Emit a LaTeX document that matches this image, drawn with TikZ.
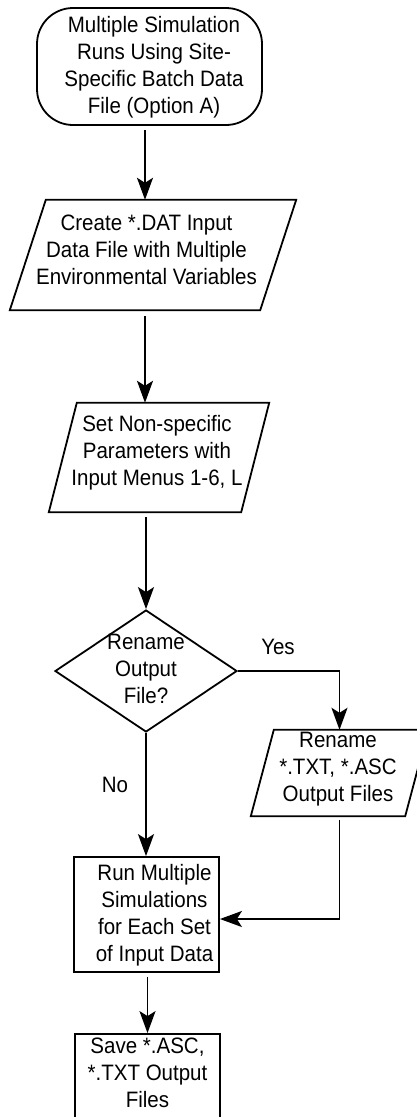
\documentclass[tikz,border=0pt]{standalone}
\usepackage{fontspec}
\setmainfont{Liberation Sans}[FakeStretch=0.92]
\usetikzlibrary{shapes.geometric,arrows.meta,calc}

% Centred lines of text with extra room on the left, right, top and bottom,
% used to nudge the text inside its box.
\newcommand\padded[5]{%
  \raisebox{0pt}[\dimexpr\height+#3\relax][\dimexpr\depth+#4\relax]{%
    \hspace*{#1}\begin{tabular}{@{}c@{}}#5\end{tabular}\hspace*{#2}}}

% Parallelogram drawn over the rectangle of a node, #2 = horizontal slant
\newcommand\slantoutline[2]{%
  \draw[edgeline] ($(#1.north west)+(#2,0)$) -- (#1.north east)
    -- ($(#1.south east)-(#2,0)$) -- (#1.south west) -- cycle;}

\begin{document}
\begin{tikzpicture}[x=1pt,y=-1pt,
  font=\fontsize{22.3}{27}\selectfont,
  edgeline/.style={line width=1.8pt},
  flow/.style={edgeline, -{Stealth[length=22pt,width=16pt,inset=5pt]}},
  terminal/.style={edgeline, draw, rectangle, rounded corners=36pt,
    inner sep=0pt, minimum width=225pt, minimum height=117pt},
  iobox/.style={rectangle, inner sep=0pt},
  process/.style={edgeline, draw, rectangle, inner sep=0pt, minimum width=145pt},
  decision/.style={edgeline, draw, diamond, inner sep=0pt,
    minimum width=182pt, minimum height=122pt},
  tag/.style={inner sep=0pt}]

\useasboundingbox (0,0) rectangle (417,1117);
\clip (0,0) rectangle (417,1117);

% boxes
\node[terminal] (start) at (149.5,66.5)
  {\padded{9pt}{0pt}{2pt}{0pt}{Multiple Simulation\\Runs Using Site-\\Specific Batch Data\\File (Option A)}};
\node[iobox, minimum width=286pt, minimum height=110pt] (create) at (153,255)
  {\padded{0pt}{13pt}{0pt}{5pt}{Create *.DAT Input\\Data File with Multiple\\Environmental Variables}};
\slantoutline{create}{36}
\node[iobox, minimum width=220pt, minimum height=109pt] (params) at (159,457.5)
  {\padded{0pt}{4pt}{0pt}{8pt}{Set Non-specific\\Parameters with\\Input Menus 1-6, L}};
\slantoutline{params}{28}
\node[decision] (ask) at (146,671)
  {\padded{-20pt}{-20pt}{-30pt}{-30pt}{Rename\\Output\\File?}};
\node[iobox, minimum width=177pt, minimum height=86pt] (rename) at (339.5,773)
  {\padded{0pt}{3pt}{-4pt}{4pt}{Rename\\{*}.TXT, *.ASC\\Output Files}};
\slantoutline{rename}{23}
\node[process, minimum height=115pt] (run) at (146.5,914.5)
  {\padded{16pt}{0pt}{2pt}{0pt}{Run Multiple\\Simulations\\for Each Set\\of Input Data}};
\node[process, minimum height=120pt] (save) at (147.5,1094)
  {\padded{0pt}{0pt}{0pt}{38pt}{Save *.ASC,\\{*}.TXT Output\\Files}};

% branch labels
\node[tag] (yes) at (278,647) {Yes};
\node[tag] (no) at (115,785) {No};

% connectors
\coordinate (axis) at (145,0);
\draw[flow, shorten <=4pt] (start.south -| axis) -- (create.north -| axis);
\draw[flow, shorten <=6pt] (create.south -| axis) -- (params.north -| axis);
\draw[flow, shorten <=5pt] (params.south -| ask.north) -- (ask.north);
\draw[flow] (ask.south) -- (ask.south |- run.north);
\draw[flow] (ask.east) -| (rename.north);
\draw[flow, shorten <=4pt] (rename.south) |- ([yshift=-4.5pt]run.east);
\draw[flow, shorten <=4pt] (save.north |- run.south) -- (save.north);
\end{tikzpicture}
\end{document}
